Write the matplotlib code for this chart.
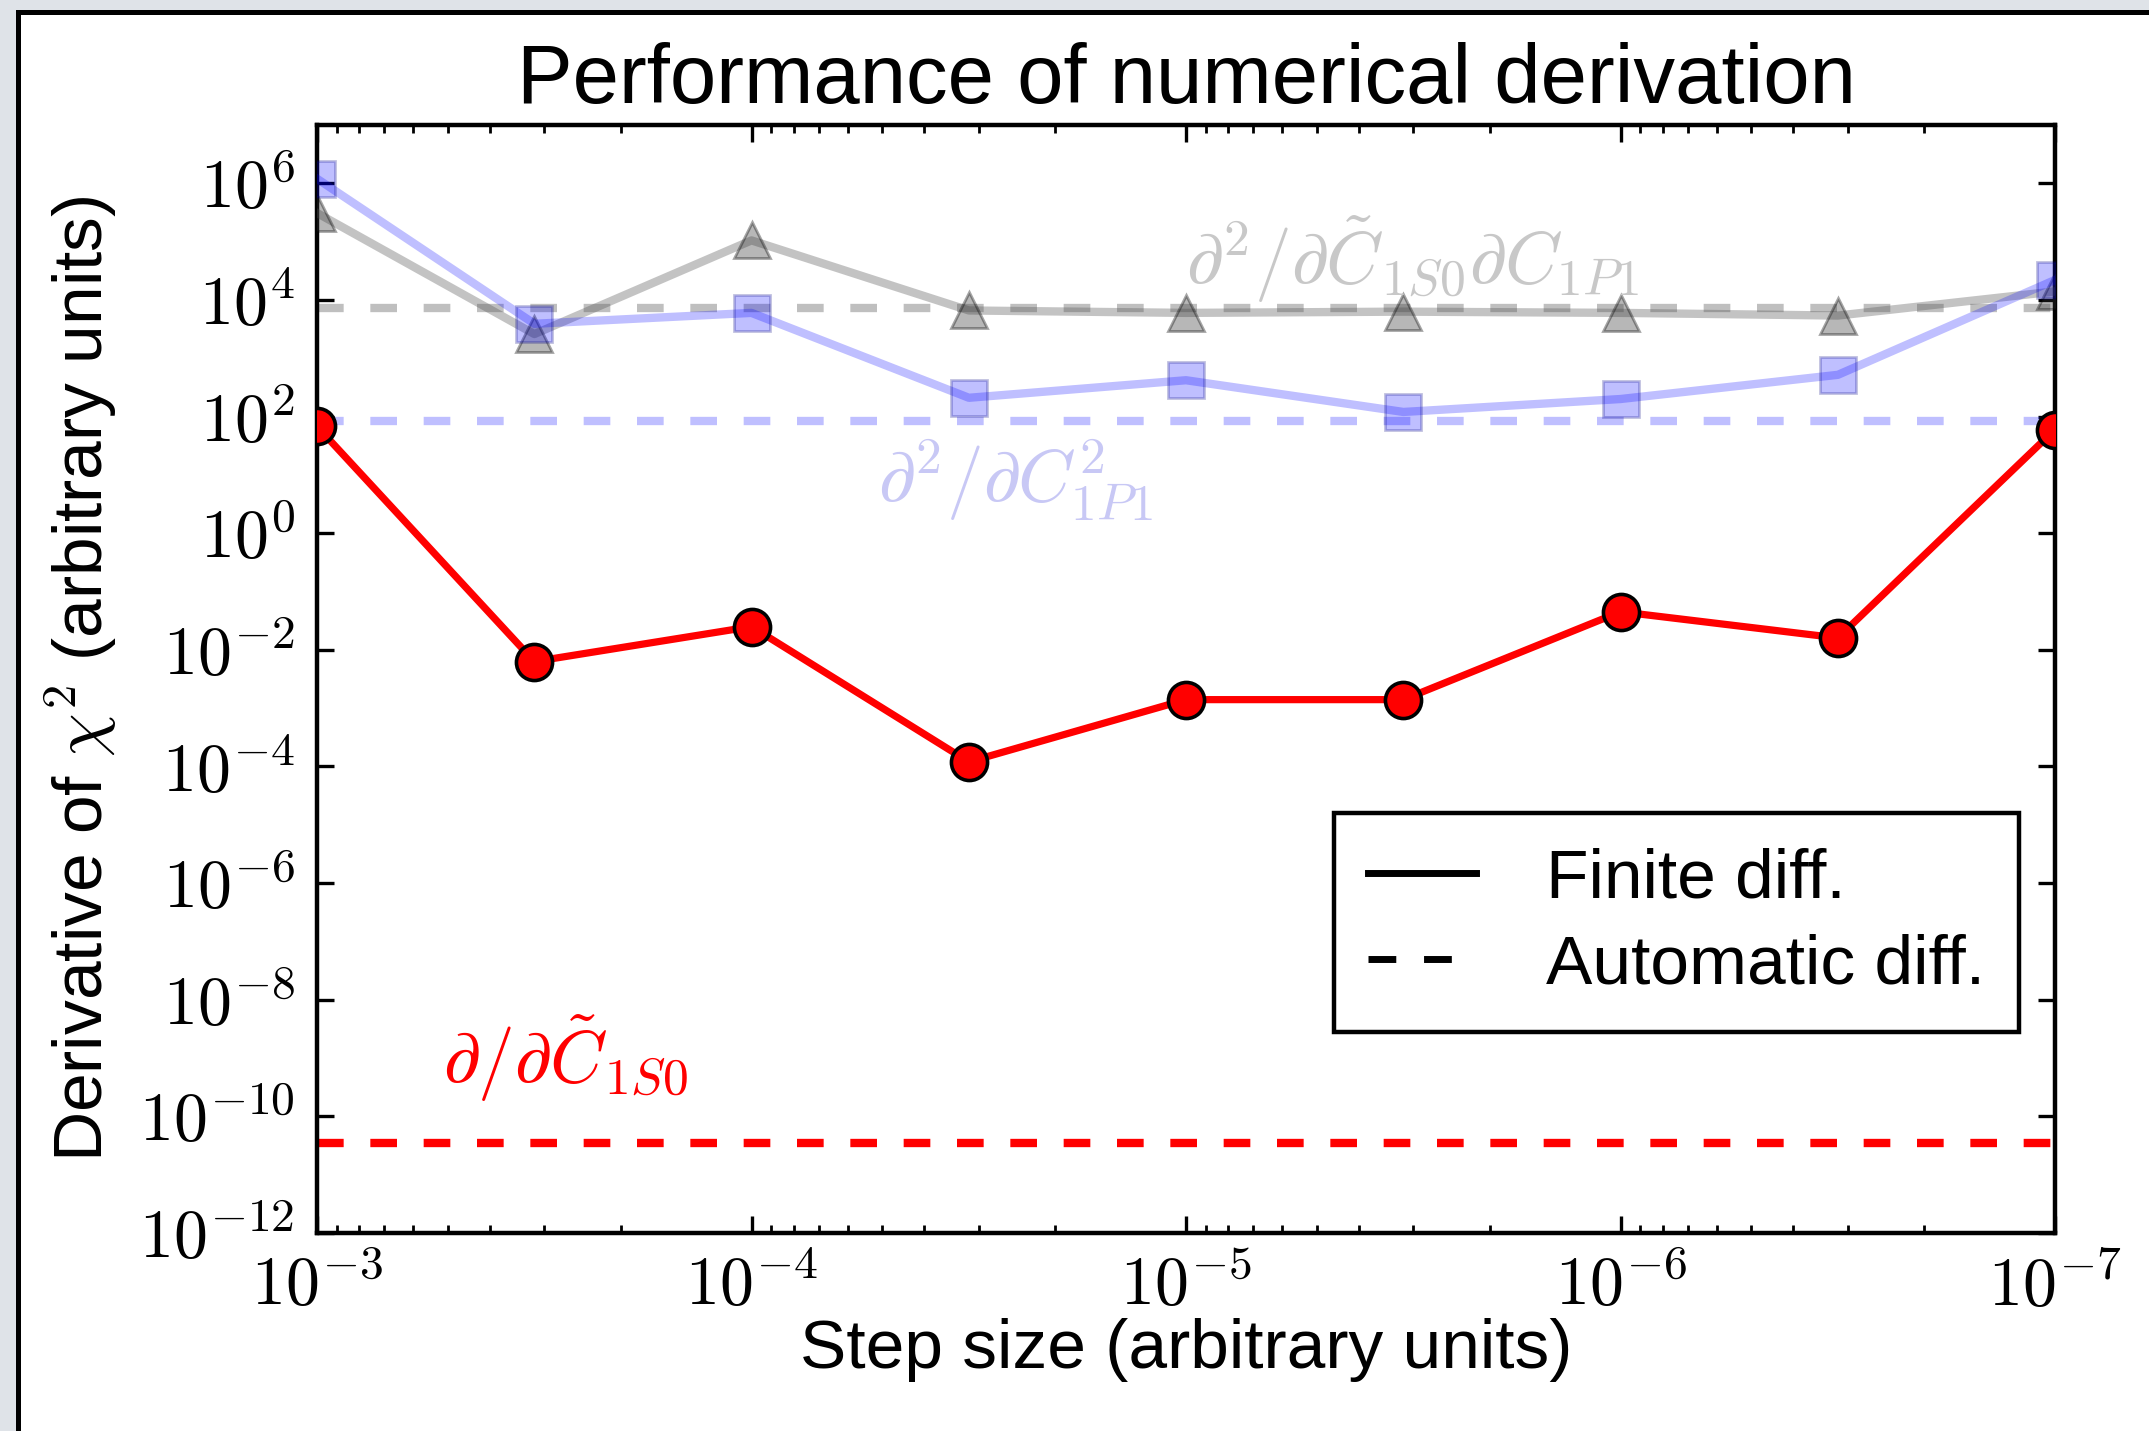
import numpy as np
import matplotlib
matplotlib.use("Agg")
import matplotlib.pyplot as plt
from matplotlib.lines import Line2D
from matplotlib.patches import Rectangle
from matplotlib.ticker import LogLocator, FixedLocator, FuncFormatter, NullLocator

plt.rcParams['font.family'] = ['Liberation Sans', 'DejaVu Sans']
plt.rcParams['mathtext.fontset'] = 'cm'

# step sizes (half-decade spacing)
steps = [1e-3, 3.16e-4, 1e-4, 3.16e-5, 1e-5, 3.16e-6, 1e-6, 3.16e-7, 1e-7]

# d/dC1S0
first_fd = [68, 6.3e-3, 2.5e-2, 1.2e-4, 1.4e-3, 1.4e-3, 4.5e-2, 1.6e-2, 60]
first_ad = 3.5e-11

# d2/dC1P1^2
second_fd = [1.2e6, 3.9e3, 6.0e3, 2.1e2, 4.2e2, 1.2e2, 2.0e2, 5.2e2, 2.2e4]
second_ad = 83

# d2/dC1S0 dC1P1
mixed_fd = [3.1e5, 2.6e3, 1.05e5, 6.6e3, 6.0e3, 6.3e3, 6.0e3, 5.4e3, 1.4e4]
mixed_ad = 7.4e3

W, H, DPI = 2149, 1431, 200
fig = plt.figure(figsize=(W / DPI, H / DPI), dpi=DPI)
fig.patch.set_facecolor('white')

# page background strip and frame
fig.add_artist(Rectangle((0, 1 - 10 / H), 1, 10 / H, transform=fig.transFigure,
                         facecolor='#dfe3e8', edgecolor='none', zorder=0))
fig.add_artist(Rectangle((0, 0), 16 / W, 1, transform=fig.transFigure,
                         facecolor='#dfe3e8', edgecolor='none', zorder=0))
fig.add_artist(Rectangle((16 / W, 1 - 15 / H), 1, 5 / H, transform=fig.transFigure,
                         facecolor='black', edgecolor='none', zorder=1))
fig.add_artist(Rectangle((16 / W, 0), 5 / W, 1 - 10 / H, transform=fig.transFigure,
                         facecolor='black', edgecolor='none', zorder=1))

ax = fig.add_axes([317 / W, 1 - 1233 / H, (2055 - 317) / W, (1233 - 125) / H])

dash = (3.2, 3.2)

# automatic differentiation reference values
ax.axhline(mixed_ad, color='gray', alpha=0.5, lw=3, ls='--', dashes=dash)
ax.axhline(second_ad, color='blue', alpha=0.25, lw=3, ls='--', dashes=dash)
ax.axhline(first_ad, color='red', lw=3, ls='--', dashes=dash)

# finite differences
ax.plot(steps, mixed_fd, color='#555555', alpha=0.35, lw=3, marker='^',
        ms=13, mfc='#333333', mec='black', zorder=3)
ax.plot(steps, second_fd, color='blue', alpha=0.25, lw=3, marker='s',
        ms=13, mfc='blue', mec='#000080', zorder=3)
ax.plot(steps, first_fd, color='red', lw=2.6, marker='o', ms=13,
        mfc='red', mec='black', mew=1.3, zorder=4)

ax.set_xscale('log')
ax.set_yscale('log')
ax.set_xlim(1e-3, 1e-7)
ax.set_ylim(1e-12, 1e7)

ax.yaxis.set_major_locator(FixedLocator([10.0 ** k for k in range(-12, 7, 2)]))
ax.yaxis.set_minor_locator(NullLocator())
ax.xaxis.set_major_locator(LogLocator(base=10))
ax.xaxis.set_minor_locator(LogLocator(base=10, subs=np.arange(2, 10)))
fmt = FuncFormatter(lambda v, p: r'$10^{%d}$' % int(round(np.log10(v))))
ax.xaxis.set_major_formatter(fmt)
ax.yaxis.set_major_formatter(fmt)
ax.xaxis.set_minor_formatter(FuncFormatter(lambda v, p: ''))

ax.tick_params(which='both', direction='in', top=True, right=True)
ax.tick_params(which='major', length=6, width=1.2, labelsize=24.5, pad=8)
ax.tick_params(which='minor', length=3, width=1)
for s in ax.spines.values():
    s.set_linewidth(1.6)

ax.set_title('Performance of numerical derivation', fontsize=30, pad=8)
ax.set_xlabel('Step size (arbitrary units)', fontsize=25)
ax.set_ylabel(r'Derivative of $\chi^2$ (arbitrary units)', fontsize=25)
ax.xaxis.set_label_coords(0.5, -0.077)
ax.yaxis.set_label_coords(-0.114, 0.5)

ax.text(1e-5, 10 ** 4.7, r'$\partial^2/\partial\tilde{C}_{1S0}\partial C_{1P1}$',
        color='#c8c8c8', fontsize=26.5, va='center', ha='left')
ax.text(10 ** -4.29, 10 ** 0.9, r'$\partial^2/\partial C_{1P1}^2$',
        color='#c8c8f5', fontsize=26.5, va='center', ha='left')
ax.text(10 ** -3.29, 10 ** -9.0, r'$\partial/\partial\tilde{C}_{1S0}$',
        color='red', fontsize=26.5, va='center', ha='left')

handles = [Line2D([], [], color='black', lw=2.5),
           Line2D([], [], color='black', lw=2.5, ls='--', dashes=(4, 4))]
leg = ax.legend(handles, ['Finite diff.', 'Automatic diff.'], fontsize=25,
                loc='lower right', bbox_to_anchor=(0.9795, 0.181),
                fancybox=False, framealpha=1, edgecolor='black',
                handlelength=1.55, handletextpad=1.0, borderpad=0.5,
                borderaxespad=0, labelspacing=0.32)
leg.get_frame().set_linewidth(1.6)

fig.savefig('out.png', dpi=DPI)
